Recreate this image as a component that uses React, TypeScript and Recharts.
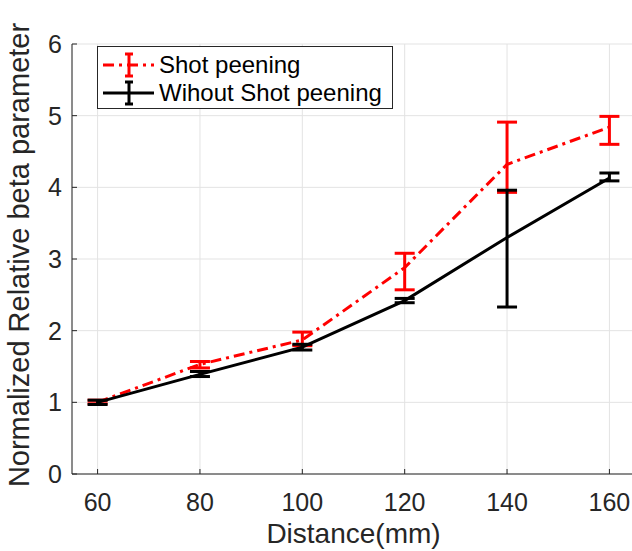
import React from "react";
import {
  LineChart,
  Line,
  XAxis,
  YAxis,
  CartesianGrid,
  ErrorBar,
  Label,
} from "recharts";

const distances = [60, 80, 100, 120, 140, 160];
const shotMean = [1.0, 1.53, 1.87, 2.88, 4.32, 4.84];
const shotLow = [0.98, 1.48, 1.79, 2.57, 3.93, 4.6];
const shotHigh = [1.03, 1.57, 1.98, 3.08, 4.91, 4.99];
const noShotMean = [1.0, 1.39, 1.77, 2.42, 3.3, 4.13];
const noShotLow = [0.97, 1.36, 1.73, 2.39, 2.33, 4.09];
const noShotHigh = [1.03, 1.43, 1.81, 2.45, 3.96, 4.2];
const xTicks = [60, 80, 100, 120, 140, 160];
const yTicks = [0, 1, 2, 3, 4, 5, 6];
const seriesNames = ["Shot peening", "Wihout Shot peening"];

const data = distances.map((d, i) => ({
  d,
  shot: shotMean[i],
  shotErr: [shotMean[i] - shotLow[i], shotHigh[i] - shotMean[i]],
  noShot: noShotMean[i],
  noShotErr: [noShotMean[i] - noShotLow[i], noShotHigh[i] - noShotMean[i]],
}));

const FONT = "'Liberation Sans', Arial, Helvetica, sans-serif";
const TEXT = "#262626";
const RED = "#ff0000";
const BLACK = "#000000";
const RED_DASH = "11 5 3 5";

const LegendBox = () => (
  <div
    style={{
      position: "absolute",
      left: 97,
      top: 46,
      width: 296,
      height: 63,
      border: "1px solid #262626",
      background: "#fff",
      fontFamily: FONT,
      fontSize: 24,
      color: "#000",
      boxSizing: "border-box",
    }}
  >
    {[0, 1].map((i) => (
      <div
        key={i}
        style={{
          position: "absolute",
          left: 4,
          top: i === 0 ? 4 : 32,
          height: 28,
          display: "flex",
          alignItems: "center",
          whiteSpace: "nowrap",
        }}
      >
        <svg width={54} height={28} style={{ display: "block" }}>
          <line
            x1={1}
            x2={52}
            y1={14}
            y2={14}
            stroke={i === 0 ? RED : BLACK}
            strokeWidth={3}
            strokeDasharray={i === 0 ? RED_DASH : undefined}
          />
          <line x1={27} x2={27} y1={3} y2={25} stroke={i === 0 ? RED : BLACK} strokeWidth={3} />
          <line x1={23} x2={31} y1={3} y2={3} stroke={i === 0 ? RED : BLACK} strokeWidth={3} />
          <line x1={23} x2={31} y1={25} y2={25} stroke={i === 0 ? RED : BLACK} strokeWidth={3} />
        </svg>
        <span style={{ marginLeft: 3, lineHeight: "28px" }}>{seriesNames[i]}</span>
      </div>
    ))}
  </div>
);

const XLabel = (props: any) => {
  const vb = props.viewBox || {};
  return (
    <text
      x={vb.x + vb.width / 2}
      y={vb.y + 69}
      textAnchor="middle"
      fontFamily={FONT}
      fontSize={28}
      fill={TEXT}
    >
      Distance(mm)
    </text>
  );
};

const YLabel = (props: any) => {
  const vb = props.viewBox || {};
  const cx = vb.x + 29;
  const cy = vb.y + vb.height / 2 - 4;
  return (
    <text
      x={cx}
      y={cy}
      textAnchor="middle"
      transform={`rotate(-90 ${cx} ${cy})`}
      fontFamily={FONT}
      fontSize={29}
      fill={TEXT}
    >
      Normalized Relative beta parameter
    </text>
  );
};

export default function App() {
  return (
    <div
      style={{
        position: "absolute",
        left: 0,
        top: 0,
        width: 632,
        height: 551,
        overflow: "hidden",
        background: "#fff",
      }}
    >
      <LineChart
        width={640}
        height={551}
        data={data}
        margin={{ top: 44, right: 5, bottom: 0, left: 0 }}
      >
        <CartesianGrid stroke="#e3e3e3" strokeWidth={1} />
        <XAxis
          dataKey="d"
          type="number"
          domain={[55, 165]}
          ticks={xTicks}
          height={77}
          tickSize={-5}
          tickMargin={24}
          stroke={TEXT}
          tick={{ fill: TEXT, fontSize: 25, fontFamily: FONT }}
          tickLine={{ stroke: TEXT }}
          axisLine={{ stroke: TEXT }}
          interval={0}
        >
          <Label content={<XLabel />} />
        </XAxis>
        <YAxis
          type="number"
          domain={[0, 6]}
          ticks={yTicks}
          width={72}
          tickSize={-5}
          tickMargin={15}
          stroke={TEXT}
          tick={{ fill: TEXT, fontSize: 25, fontFamily: FONT }}
          tickLine={{ stroke: TEXT }}
          axisLine={{ stroke: TEXT }}
          interval={0}
        >
          <Label content={<YLabel />} />
        </YAxis>
        <Line
          type="linear"
          dataKey="shot"
          stroke={RED}
          strokeWidth={3}
          strokeDasharray={RED_DASH}
          dot={false}
          activeDot={false}
          isAnimationActive={false}
        >
          <ErrorBar dataKey="shotErr" direction="y" width={10} stroke={RED} strokeWidth={3} isAnimationActive={false} />
        </Line>
        <Line
          type="linear"
          dataKey="noShot"
          stroke={BLACK}
          strokeWidth={3}
          dot={false}
          activeDot={false}
          isAnimationActive={false}
        >
          <ErrorBar dataKey="noShotErr" direction="y" width={10} stroke={BLACK} strokeWidth={3} isAnimationActive={false} />
        </Line>
      </LineChart>
      <LegendBox />
    </div>
  );
}
